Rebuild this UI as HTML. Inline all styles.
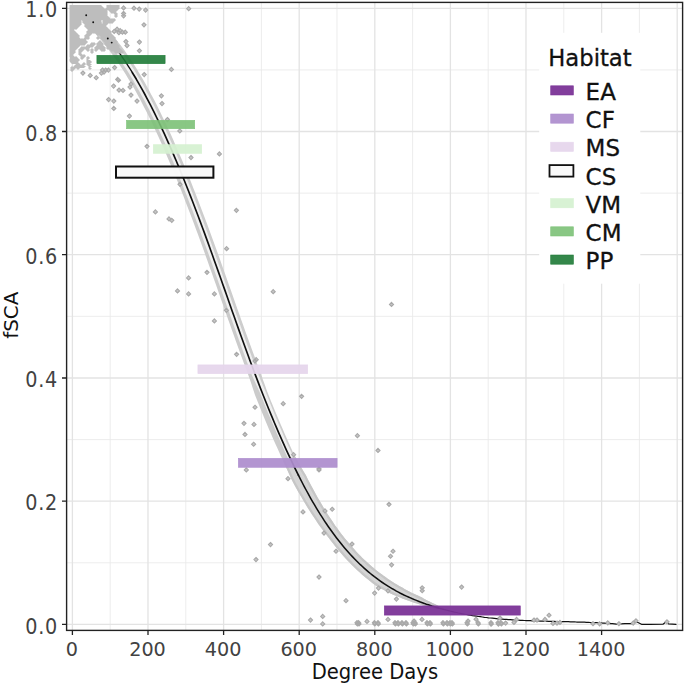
<!DOCTYPE html>
<html lang="en"><head><meta charset="utf-8"><title>fSCA vs Degree Days by Habitat</title>
<style>html,body{margin:0;padding:0;background:#fff}body{width:685px;height:685px;overflow:hidden}svg{display:block}text{font-family:'DejaVu Sans','Liberation Sans',sans-serif}.tk{font-size:19.2px;fill:#424242}.ax{font-size:19.6px;fill:#111}.lg{font-size:23px;fill:#111;stroke:#111;stroke-width:.3px}</style></head><body>
<svg width="685" height="685" viewBox="0 0 685 685">
<rect width="685" height="685" fill="#fff"/>
<path d="M110.2 2.4V630.4M185.8 2.4V630.4M261.4 2.4V630.4M337.0 2.4V630.4M412.6 2.4V630.4M488.2 2.4V630.4M563.8 2.4V630.4M639.4 2.4V630.4M66.6 562.8H682.6M66.6 439.6H682.6M66.6 316.3H682.6M66.6 193.1H682.6M66.6 69.9H682.6" stroke="#e9e9e9" stroke-width="0.85" fill="none"/>
<path d="M72.4 2.4V630.4M148.0 2.4V630.4M223.6 2.4V630.4M299.2 2.4V630.4M374.8 2.4V630.4M450.4 2.4V630.4M526.0 2.4V630.4M601.6 2.4V630.4M677.2 2.4V630.4M66.6 624.4H682.6M66.6 501.2H682.6M66.6 378.0H682.6M66.6 254.7H682.6M66.6 131.5H682.6M66.6 8.3H682.6" stroke="#e3e3e3" stroke-width="1.3" fill="none"/>
<path d="M111.8 43.4L113.2 46.3L114.7 49.4L116.2 52.4L117.6 55.6L119.0 58.8L121.0 61.7L123.0 64.6L125.0 67.6L127.0 70.7L128.9 73.9L130.9 77.1L132.9 80.5L134.9 83.9L136.9 87.3L138.9 90.9L140.8 94.5L142.8 98.2L144.8 102.0L146.8 105.8L148.8 109.7L150.8 113.7L152.8 117.7L154.8 121.8L156.7 126.0L158.7 130.3L160.7 134.6L162.7 138.9L164.7 143.4L166.7 147.9L168.7 152.4L170.7 157.1L172.7 161.7L174.7 166.5L176.7 171.3L178.7 176.1L180.7 181.1L182.7 186.0L184.7 191.1L186.6 196.1L188.6 201.3L190.6 206.5L192.6 211.7L194.6 217.0L196.6 222.3L198.6 227.7L200.6 233.1L202.6 238.5L204.6 244.0L206.6 249.6L208.6 255.1L210.6 260.7L212.6 266.4L214.6 272.0L216.6 277.7L218.6 283.3L220.6 289.0L222.6 294.7L224.6 300.4L226.6 306.1L228.6 311.7L230.6 317.4L232.6 323.0L234.6 328.7L236.6 334.3L238.6 339.9L240.6 345.4L242.6 350.9L244.6 356.4L246.6 361.8L248.6 367.2L250.6 372.6L252.8 377.8L255.2 382.9L257.5 388.0L259.9 393.0L261.9 398.1L263.9 403.1L265.9 408.1L267.9 413.0L269.9 417.9L271.9 422.7L273.9 427.4L275.9 432.1L277.9 436.7L279.9 441.2L281.9 445.7L283.9 450.1L285.9 454.5L287.9 458.8L289.9 463.1L295.3 460.5L293.3 456.3L291.4 452.0L289.4 447.7L287.4 443.3L285.4 438.8L283.4 434.3L281.4 429.7L279.4 425.0L277.4 420.3L275.4 415.6L273.4 410.7L271.4 405.8L269.4 400.9L267.4 395.9L265.4 390.8L263.3 385.7L261.2 380.6L259.1 375.4L257.0 370.2L255.0 364.8L253.0 359.5L251.0 354.0L249.0 348.6L247.0 343.1L245.0 337.6L243.0 332.0L241.0 326.4L239.0 320.8L237.0 315.1L235.0 309.5L233.0 303.8L231.0 298.1L229.0 292.4L227.0 286.8L225.0 281.1L223.0 275.4L221.0 269.7L219.0 264.1L217.0 258.5L215.0 252.9L213.0 247.3L211.0 241.7L209.0 236.2L207.0 230.7L205.0 225.3L203.0 219.9L201.0 214.6L199.0 209.3L197.0 204.0L195.0 198.8L193.0 193.7L191.0 188.6L189.0 183.5L187.0 178.5L185.0 173.6L183.0 168.7L181.0 163.9L178.9 159.1L176.9 154.4L174.9 149.7L172.9 145.1L170.9 140.6L168.9 136.1L166.9 131.7L164.9 127.4L162.9 123.1L160.9 118.9L158.9 114.7L156.9 110.7L154.9 106.6L152.8 102.7L150.8 98.8L148.8 95.0L146.8 91.3L144.8 87.6L142.8 84.0L140.8 80.5L138.8 77.0L136.7 73.6L134.7 70.3L132.7 67.1L130.7 63.9L128.7 60.8L126.6 57.8L124.6 54.9L122.1 52.4L119.6 49.9L117.2 47.5L114.7 45.2L112.2 43.0Z" fill="#f0f0f0"/><path d="M79.7 18.6L81.6 20.3L83.5 22.0L85.5 23.8L87.4 25.6L89.3 27.5L91.3 29.5L93.2 31.5L95.2 33.6L97.1 35.7L99.0 37.9L101.0 40.1L102.9 42.5L104.9 44.8L106.8 47.3L108.8 49.8L110.7 52.4L112.7 55.0L114.6 57.7L116.6 60.5L118.5 63.3L120.5 66.3L122.5 69.3L124.4 72.3L126.4 75.5L128.3 78.7L130.3 82.0L132.3 85.4L134.3 88.8L136.2 92.3L138.2 95.9L140.2 99.6L142.2 103.4L144.1 107.2L146.1 111.1L148.1 115.0L150.1 119.0L152.1 123.1L154.0 127.3L156.0 131.5L158.0 135.8L160.0 140.2L162.0 144.6L164.0 149.1L165.9 153.6L167.9 158.2L169.9 162.9L171.9 167.6L173.9 172.4L175.9 177.3L177.9 182.2L179.9 187.1L181.9 192.2L183.9 197.2L185.8 202.4L187.8 207.5L189.8 212.8L191.8 218.0L193.8 223.3L195.8 228.7L197.8 234.1L199.8 239.6L201.8 245.1L203.8 250.6L205.8 256.2L207.8 261.7L209.8 267.4L211.8 273.0L213.8 278.7L215.8 284.3L217.8 290.0L219.8 295.7L221.8 301.4L223.8 307.1L225.8 312.7L227.8 318.4L229.8 324.0L231.8 329.7L233.8 335.3L235.8 340.9L237.8 346.4L239.8 351.9L241.8 357.4L243.8 362.9L245.8 368.3L247.8 373.6L249.7 379.0L251.5 384.3L253.2 389.6L255.0 394.9L257.0 400.0L259.0 405.0L261.0 410.0L263.1 415.0L265.1 419.9L267.1 424.7L269.1 429.4L271.1 434.1L273.1 438.8L275.1 443.3L277.2 447.8L279.2 452.3L281.2 456.7L283.2 461.0L285.1 465.3L290.2 462.9L288.2 458.7L286.2 454.4L284.2 450.0L282.2 445.6L280.2 441.1L278.2 436.6L276.2 431.9L274.2 427.3L272.2 422.5L270.2 417.7L268.1 412.9L266.1 408.0L264.1 403.0L262.1 398.0L260.1 392.9L257.8 387.9L255.4 382.8L253.1 377.7L250.9 372.5L248.9 367.1L246.9 361.7L244.9 356.3L242.9 350.8L240.9 345.3L238.9 339.8L236.9 334.2L234.9 328.6L232.9 322.9L230.9 317.3L228.9 311.6L226.9 306.0L224.9 300.3L222.9 294.6L220.9 288.9L218.9 283.2L216.9 277.6L214.9 271.9L212.9 266.3L210.9 260.6L208.9 255.0L206.9 249.5L204.9 243.9L202.9 238.4L200.9 233.0L198.9 227.6L196.9 222.2L194.9 216.9L192.9 211.6L190.9 206.4L188.9 201.2L186.9 196.0L184.9 191.0L182.9 185.9L180.9 181.0L178.9 176.0L176.9 171.2L175.0 166.4L173.0 161.6L171.0 156.9L169.0 152.3L167.0 147.7L165.0 143.2L163.0 138.8L161.0 134.4L159.0 130.1L157.0 125.9L155.0 121.7L153.0 117.6L151.0 113.5L149.1 109.6L147.1 105.7L145.1 101.8L143.1 98.1L141.1 94.4L139.1 90.7L137.1 87.2L135.1 83.7L133.2 80.3L131.2 77.0L129.2 73.7L127.2 70.6L125.2 67.5L123.2 64.4L121.3 61.5L119.3 58.6L117.8 55.4L116.4 52.3L114.9 49.2L113.5 46.2L112.0 43.2L110.0 40.7L108.0 38.2L106.0 35.9L104.0 33.5L102.0 31.3L100.0 29.1L98.0 27.0L96.0 24.9L94.0 22.9L92.0 20.9L90.0 19.0L88.0 17.1L86.0 15.3L84.0 13.6Z" fill="#cbcbcb"/><path d="M84.0 13.6L86.0 15.3L88.0 17.1L90.0 19.0L92.0 20.9L94.0 22.9L96.0 24.9L98.0 27.0L100.0 29.1L102.0 31.3L104.0 33.5L106.0 35.9L108.0 38.2L110.0 40.7L112.0 43.2L114.5 45.4L116.9 47.7L119.4 50.1L121.9 52.5L124.4 55.1L126.4 58.0L128.4 61.0L130.4 64.1L132.5 67.3L134.5 70.5L136.5 73.8L138.5 77.2L140.5 80.6L142.5 84.1L144.5 87.7L146.5 91.4L148.6 95.1L150.6 99.0L152.6 102.8L154.6 106.8L156.6 110.8L158.6 114.9L160.6 119.0L162.6 123.2L164.6 127.5L166.6 131.9L168.6 136.3L170.6 140.7L172.7 145.3L174.7 149.8L176.7 154.5L178.7 159.2L180.7 164.0L182.7 168.8L184.7 173.7L186.7 178.6L188.7 183.6L190.7 188.7L192.7 193.8L194.7 198.9L196.7 204.1L198.7 209.4L200.7 214.7L202.7 220.0L204.7 225.4L206.7 230.8L208.7 236.3L210.7 241.8L212.7 247.4L214.7 253.0L216.7 258.6L218.7 264.2L220.7 269.8L222.7 275.5L224.7 281.2L226.7 286.8L228.7 292.5L230.7 298.2L232.7 303.9L234.7 309.6L236.7 315.2L238.7 320.9L240.7 326.5L242.7 332.1L244.7 337.7L246.7 343.2L248.7 348.7L250.7 354.1L252.7 359.6L254.7 364.9L256.7 370.3L258.8 375.5L260.9 380.7L263.0 385.8L265.2 390.9L267.2 396.0L269.2 401.0L271.2 405.9L273.1 410.8L275.1 415.7L277.1 420.4L279.1 425.2L281.1 429.8L283.1 434.4L285.1 438.9L287.1 443.4L289.1 447.8L291.1 452.1L293.1 456.4L295.1 460.6L296.9 459.7L294.6 455.7L292.6 451.4L290.6 447.1L288.7 442.7L286.7 438.2L284.7 433.7L282.7 429.1L280.7 424.5L278.7 419.8L276.7 415.0L274.7 410.2L272.7 405.3L270.7 400.4L268.7 395.4L266.7 390.3L264.9 385.1L263.0 379.9L261.2 374.6L259.2 369.3L257.2 364.0L255.3 358.6L253.3 353.2L251.3 347.8L249.3 342.3L247.3 336.7L245.3 331.2L243.3 325.6L241.3 320.0L239.3 314.3L237.3 308.7L235.3 303.0L233.3 297.3L231.3 291.6L229.3 286.0L227.3 280.3L225.3 274.6L223.3 268.9L221.3 263.3L219.3 257.6L217.3 252.0L215.3 246.5L213.3 240.9L211.3 235.4L209.3 229.9L207.3 224.5L205.2 219.1L203.2 213.7L201.2 208.4L199.2 203.2L197.2 198.0L195.2 192.8L193.2 187.7L191.2 182.6L189.2 177.6L187.2 172.7L185.2 167.8L183.2 162.9L181.2 158.2L179.1 153.4L177.1 148.8L175.1 144.2L173.1 139.6L171.1 135.1L169.1 130.7L167.1 126.4L165.1 122.1L163.0 117.9L161.0 113.7L159.0 109.6L157.0 105.6L155.0 101.6L153.0 97.7L150.9 93.9L148.9 90.1L146.9 86.4L144.9 82.8L142.9 79.3L140.8 75.8L138.8 72.4L136.8 69.1L134.7 65.8L132.7 62.6L130.7 59.5L128.6 56.5L126.6 53.5L124.6 50.6L122.5 47.8L120.5 45.0L118.4 42.4L116.4 39.7L114.4 37.2L112.3 34.7L110.3 32.2L108.2 29.9L106.2 27.5L104.1 25.3L102.1 23.1L100.0 21.0L98.0 18.9L95.9 16.9L93.8 14.9L91.8 13.0L89.7 11.1L87.7 9.3Z" fill="#cdcdcd"/><path d="M283.2 461.0L285.1 465.3L287.1 469.6L289.0 473.8L290.9 477.9L292.9 482.0L295.0 485.9L297.1 489.7L299.2 493.4L301.4 497.1L303.5 500.7L305.6 504.3L307.7 507.7L309.8 511.1L312.0 514.4L314.1 517.6L316.2 520.8L318.3 523.9L320.5 526.9L322.6 529.8L324.7 532.7L326.9 535.5L329.0 538.2L331.1 540.9L333.1 543.6L335.2 546.2L337.2 548.7L339.3 551.2L341.3 553.6L343.4 555.9L345.4 558.2L347.5 560.4L349.5 562.6L351.6 564.7L353.7 566.8L355.7 568.8L357.8 570.7L359.9 572.6L361.9 574.4L364.0 576.2L366.1 578.0L368.1 579.6L370.2 581.3L372.3 582.9L374.3 584.4L376.4 585.9L378.6 587.2L380.8 588.4L383.0 589.6L385.1 590.7L387.3 591.8L389.5 592.9L391.6 593.9L393.8 594.9L395.9 595.8L398.1 596.7L400.2 597.6L402.3 598.5L404.4 599.3L406.5 600.1L408.6 600.8L410.7 601.6L412.8 602.3L414.9 603.0L417.0 603.6L419.1 604.3L421.2 604.8L423.2 605.4L425.3 606.0L427.4 606.5L429.5 607.0L431.5 607.5L433.6 608.0L435.7 608.4L437.7 608.8L439.8 609.2L441.8 609.6L443.9 610.0L445.9 610.4L446.2 609.3L444.3 608.5L442.4 607.6L440.5 606.8L438.6 605.9L436.7 605.0L434.8 604.1L432.9 603.2L431.0 602.3L429.1 601.3L427.3 600.4L425.4 599.4L423.6 598.4L421.7 597.3L419.8 596.5L417.9 595.6L416.0 594.7L414.0 593.8L412.1 592.9L410.2 591.9L408.3 590.9L406.4 589.9L404.5 588.9L402.7 587.8L400.7 586.8L398.8 585.7L396.9 584.5L395.0 583.4L393.1 582.2L391.2 581.0L389.3 579.7L387.4 578.4L385.5 577.1L383.6 575.7L381.7 574.3L379.8 572.9L377.9 571.4L375.9 569.9L374.0 568.3L372.1 566.7L370.1 565.0L368.2 563.3L366.3 561.6L364.3 559.7L362.4 557.9L360.5 555.9L358.5 553.9L356.6 551.9L354.7 549.8L352.7 547.6L350.8 545.4L348.8 543.1L346.9 540.8L344.9 538.4L343.0 535.9L341.0 533.4L339.0 530.8L337.1 528.1L335.1 525.4L333.2 522.5L331.2 519.6L329.3 516.7L327.3 513.7L325.4 510.5L323.5 507.4L321.5 504.1L319.6 500.8L317.6 497.4L315.7 493.9L313.7 490.3L311.8 486.7L309.8 483.0L307.8 479.2L305.9 475.3L303.6 471.6L301.4 467.7L299.1 463.8L296.9 459.7L294.6 455.7Z" fill="#d5d5d5"/><path d="M283.2 461.0L285.1 465.3L287.1 469.6L289.0 473.8L290.9 477.9L292.9 482.0L295.0 485.9L297.1 489.7L299.2 493.4L301.4 497.1L303.5 500.7L305.6 504.3L307.7 507.7L309.8 511.1L312.0 514.4L314.1 517.6L316.2 520.8L318.3 523.9L320.5 526.9L322.6 529.8L324.7 532.7L326.9 535.5L329.0 538.2L331.1 540.9L333.1 543.6L335.2 546.2L337.2 548.7L339.3 551.2L341.3 553.6L343.4 555.9L345.4 558.2L347.5 560.4L349.5 562.6L351.6 564.7L353.7 566.8L355.7 568.8L357.8 570.7L359.9 572.6L361.9 574.4L364.0 576.2L366.1 578.0L368.1 579.6L370.2 581.3L372.3 582.9L374.3 584.4L376.4 585.9L378.6 587.2L380.8 588.4L383.0 589.6L385.1 590.7L387.3 591.8L389.5 592.9L391.6 593.9L393.8 594.9L395.9 595.8L398.1 596.7L400.2 597.6L402.3 598.5L404.4 599.3L406.5 600.1L408.6 600.8L410.7 601.6L412.8 602.3L414.9 603.0L417.0 603.6L419.1 604.3L421.2 604.8L423.2 605.4L425.3 606.0L427.4 606.5L429.5 607.0L431.5 607.5L433.6 608.0L435.7 608.4L437.7 608.8L439.8 609.2L440.0 608.4L438.0 607.9L436.0 607.3L434.0 606.7L432.0 606.0L430.0 605.4L428.0 604.7L426.0 604.0L424.0 603.3L421.9 602.8L419.9 602.2L417.8 601.6L415.7 600.9L413.7 600.3L411.6 599.6L409.5 598.8L407.4 598.1L405.4 597.3L403.3 596.5L401.2 595.6L399.1 594.7L397.0 593.9L394.8 592.9L392.7 592.0L390.6 591.0L388.4 589.9L386.3 588.9L384.2 587.7L382.0 586.6L379.9 585.4L377.7 584.1L375.6 582.6L373.6 581.1L371.5 579.5L369.5 577.9L367.5 576.3L365.4 574.6L363.4 572.8L361.3 571.0L359.3 569.1L357.2 567.2L355.2 565.2L353.2 563.2L351.1 561.1L349.1 558.9L347.0 556.7L345.0 554.5L343.0 552.1L340.9 549.8L338.9 547.3L336.9 544.8L334.8 542.2L332.8 539.6L330.7 536.9L328.6 534.2L326.5 531.4L324.4 528.6L322.3 525.7L320.2 522.7L318.1 519.6L316.0 516.5L313.8 513.3L311.7 510.0L309.6 506.6L307.5 503.2L305.4 499.7L303.3 496.1L301.2 492.4L299.1 488.7L296.9 484.8L294.8 481.0L292.9 476.9L291.0 472.8L289.0 468.6L287.1 464.4L285.2 460.1Z" fill="#c6c6c6"/><path d="M292.6 456.6L294.9 460.7L297.2 464.7L299.4 468.7L301.7 472.5L303.9 476.3L305.9 480.2L307.9 484.0L309.8 487.7L311.8 491.4L313.7 495.0L315.7 498.5L317.7 501.9L319.6 505.2L321.6 508.5L323.5 511.7L325.5 514.8L327.4 517.9L329.4 520.9L331.4 523.8L333.3 526.6L335.3 529.4L337.2 532.1L339.3 534.7L341.2 537.3L343.2 539.7L345.2 542.2L347.1 544.5L349.1 546.9L351.1 549.1L353.0 551.3L355.0 553.4L357.0 555.5L358.9 557.5L360.9 559.4L362.8 561.3L364.8 563.2L366.7 565.0L368.7 566.7L370.7 568.4L372.6 570.0L374.6 571.6L376.5 573.1L378.5 574.6L380.4 576.1L382.4 577.5L384.3 578.9L386.2 580.2L388.1 581.6L390.1 582.8L392.0 584.1L393.9 585.3L395.8 586.5L397.8 587.6L399.7 588.7L401.6 589.8L403.6 590.8L405.5 591.9L407.4 592.9L409.3 593.9L411.2 594.9L413.2 595.8L415.1 596.8L417.0 597.7L419.0 598.5L420.9 599.4L422.8 600.4L424.7 601.4L426.6 602.4L428.4 603.4L430.3 604.4L432.2 605.3L434.1 606.2L436.0 607.1L438.0 607.9L440.0 608.4L440.5 606.8L438.6 605.9L436.7 605.0L434.8 604.1L432.9 603.2L431.0 602.3L429.1 601.3L427.3 600.4L425.4 599.4L423.6 598.4L421.7 597.3L419.8 596.5L417.9 595.6L416.0 594.7L414.0 593.8L412.1 592.9L410.2 591.9L408.3 590.9L406.4 589.9L404.5 588.9L402.7 587.8L400.7 586.8L398.8 585.7L396.9 584.5L395.0 583.4L393.1 582.2L391.2 581.0L389.3 579.7L387.4 578.4L385.5 577.1L383.6 575.7L381.7 574.3L379.8 572.9L377.9 571.4L375.9 569.9L374.0 568.3L372.1 566.7L370.1 565.0L368.2 563.3L366.3 561.6L364.3 559.7L362.4 557.9L360.5 555.9L358.5 553.9L356.6 551.9L354.7 549.8L352.7 547.6L350.8 545.4L348.8 543.1L346.9 540.8L344.9 538.4L343.0 535.9L341.0 533.4L339.0 530.8L337.1 528.1L335.1 525.4L333.2 522.5L331.2 519.6L329.3 516.7L327.3 513.7L325.4 510.5L323.5 507.4L321.5 504.1L319.6 500.8L317.6 497.4L315.7 493.9L313.7 490.3L311.8 486.7L309.8 483.0L307.8 479.2L305.9 475.3L303.6 471.6L301.4 467.7L299.1 463.8L296.9 459.7L294.6 455.7Z" fill="#c6c6c6"/><path d="M118.4 51.7L120.4 54.4L122.4 57.3L124.4 60.2L126.4 63.2L128.4 66.3L130.4 69.4L132.4 72.7" fill="none" stroke="#111" stroke-width="1.3" stroke-linejoin="round" stroke-linecap="round"/><path d="M132.4 72.7L134.4 76.0L136.4 79.3L138.4 82.8L140.4 86.3L142.4 89.9L144.4 93.5L146.4 97.3L148.4 101.1L150.4 104.9L152.4 108.9L154.4 112.9L156.4 117.0L158.4 121.1L160.4 125.3L162.4 129.6L164.4 133.9L166.4 138.3L168.4 142.8L170.4 147.3L172.4 151.9L174.4 156.6L176.4 161.3L178.4 166.1L180.4 170.9L182.4 175.8L184.4 180.7L186.4 185.7L188.4 190.8L190.4 195.9L192.4 201.0L194.4 206.2L196.4 211.5L198.4 216.8L200.4 222.1L202.4 227.5L204.4 232.9L206.4 238.4L208.4 243.9L210.4 249.5L212.4 255.0L214.4 260.7L216.4 266.3L218.4 271.9L220.4 277.6L222.4 283.3L224.4 288.9L226.4 294.6L228.4 300.3L230.4 306.0L232.4 311.7L234.4 317.3L236.4 323.0L238.4 328.6L240.4 334.2L242.4 339.7L244.4 345.3L246.4 350.8L248.4 356.2L250.4 361.7L252.4 367.0L254.4 372.4L256.4 377.6L258.4 382.9L260.4 388.1L262.4 393.2L264.4 398.2L266.4 403.3L268.4 408.2L270.4 413.1L272.4 417.9L274.4 422.7L276.4 427.4L278.4 432.1L280.4 436.7L282.4 441.2L284.4 445.7L286.4 450.1L288.4 454.4L290.4 458.7L292.4 462.9L294.4 467.1L296.4 471.1L298.4 475.2" fill="none" stroke="#111" stroke-width="1.65" stroke-linejoin="round" stroke-linecap="round"/><path d="M298.4 475.2L300.4 479.1L302.4 483.0L304.4 486.8L306.4 490.5L308.4 494.2L310.4 497.8L312.4 501.3L314.4 504.7L316.4 508.1L318.4 511.4L320.4 514.6L322.4 517.7L324.4 520.8L326.4 523.8L328.4 526.7L330.4 529.5L332.4 532.3L334.4 535.0L336.4 537.7L338.4 540.3L340.4 542.8L342.4 545.3L344.4 547.7L346.4 550.0L348.4 552.3L350.4 554.5L352.4 556.6L354.4 558.7L356.4 560.8L358.4 562.7L360.4 564.7L362.4 566.5L364.4 568.4L366.4 570.1L368.4 571.8L370.4 573.5L372.4 575.1L374.4 576.7L376.4 578.2L378.4 579.7L380.4 581.1L382.4 582.5L384.4 583.8L386.4 585.1L388.4 586.4L390.4 587.6L392.4 588.8L394.4 589.9L396.4 591.1L398.4 592.1L400.4 593.2L402.4 594.2L404.4 595.2L406.4 596.1L408.4 597.0L410.4 597.9L412.4 598.8L414.4 599.6L416.4 600.4L418.4 601.2L420.4 602.0L422.4 602.7L424.4 603.4L426.4 604.2L428.4 604.8L430.4 605.5L432.4 606.2L434.4 606.8L436.4 607.4L438.4 608.0" fill="none" stroke="#111" stroke-width="1.55" stroke-linejoin="round" stroke-linecap="round"/><path d="M438.4 608.0L440.4 608.6L442.4 609.1L444.4 609.7L446.4 610.2L448.4 610.7L450.4 611.2L452.4 611.6L454.4 612.1L456.4 612.5L458.4 613.0L460.4 613.4L462.4 613.8L464.4 614.2L466.4 614.5L468.4 614.9L470.4 615.2L472.4 615.6L474.4 615.9L476.4 616.2L478.4 616.5L480.4 616.7L482.4 617.0L484.4 617.3L486.4 617.5L488.4 617.8L490.4 618.0L492.4 618.2L494.4 618.4L496.4 618.6L498.4 618.8L500.4 618.9L502.4 619.1L504.4 619.3L506.4 619.4L508.4 619.6L510.4 619.7L512.4 619.8L514.4 620.0L516.4 620.1L518.4 620.2L520.4 620.3L522.4 620.4L524.4 620.5L526.4 620.6L528.4 620.6L530.4 620.7L532.4 620.8L534.4 620.9L536.4 620.9L538.4 621.0L540.4 621.1L542.4 621.1L544.4 621.2L546.4 621.2L548.4 621.3L550.4 621.3L552.4 621.4L554.4 621.4L556.4 621.5L558.4 621.5L560.4 621.6L562.4 621.6L564.4 621.6L566.4 621.7L568.4 621.7L570.4 621.8L572.4 621.8L574.4 621.9L576.4 622.0L578.4 622.0L580.4 622.1L582.4 622.2L584.4 622.2L586.4 622.3L588.4 622.4L590.4 622.5L592.4 622.5L594.4 622.6L596.4 622.7L598.4 622.8L600.4 622.9L602.4 623.1L604.4 623.2L606.4 623.3L608.4 623.4L610.4 623.6L612.4 623.7L614.4 623.9L616.4 624.1L625.0 623.7L632.0 623.6L635.0 622.3L637.5 622.3L641.5 624.3L650.0 624.3L663.0 624.2L666.5 621.6L668.5 623.8L676.0 624.3" fill="none" stroke="#111" stroke-width="1.25" stroke-linejoin="round" stroke-linecap="round"/><path d="M123.6 5.9l2.05 2.05l-2.05 2.05l-2.05-2.05zM123.6 11.4l2.05 2.05l-2.05 2.05l-2.05-2.05zM123.6 13.8l2.05 2.05l-2.05 2.05l-2.05-2.05zM134.0 6.1l2.05 2.05l-2.05 2.05l-2.05-2.05zM139.2 7.0l2.05 2.05l-2.05 2.05l-2.05-2.05zM145.6 8.0l2.05 2.05l-2.05 2.05l-2.05-2.05zM188.7 6.6l2.05 2.05l-2.05 2.05l-2.05-2.05zM144.0 22.8l2.05 2.05l-2.05 2.05l-2.05-2.05zM114.2 29.4l2.05 2.05l-2.05 2.05l-2.05-2.05zM117.1 27.1l2.05 2.05l-2.05 2.05l-2.05-2.05zM118.9 30.7l2.05 2.05l-2.05 2.05l-2.05-2.05zM122.4 30.1l2.05 2.05l-2.05 2.05l-2.05-2.05zM125.3 30.1l2.05 2.05l-2.05 2.05l-2.05-2.05zM120.2 28.6l2.05 2.05l-2.05 2.05l-2.05-2.05zM125.9 39.5l2.05 2.05l-2.05 2.05l-2.05-2.05zM127.0 43.5l2.05 2.05l-2.05 2.05l-2.05-2.05zM139.4 40.0l2.05 2.05l-2.05 2.05l-2.05-2.05zM139.4 48.7l2.05 2.05l-2.05 2.05l-2.05-2.05zM82.9 71.0l2.05 2.05l-2.05 2.05l-2.05-2.05zM90.2 73.4l2.05 2.05l-2.05 2.05l-2.05-2.05zM96.2 75.7l2.05 2.05l-2.05 2.05l-2.05-2.05zM102.5 68.0l2.05 2.05l-2.05 2.05l-2.05-2.05zM105.6 68.0l2.05 2.05l-2.05 2.05l-2.05-2.05zM108.4 68.0l2.05 2.05l-2.05 2.05l-2.05-2.05zM101.4 71.0l2.05 2.05l-2.05 2.05l-2.05-2.05zM104.0 70.0l2.05 2.05l-2.05 2.05l-2.05-2.05zM114.6 65.5l2.05 2.05l-2.05 2.05l-2.05-2.05zM117.7 77.4l2.05 2.05l-2.05 2.05l-2.05-2.05zM144.2 72.5l2.05 2.05l-2.05 2.05l-2.05-2.05zM171.4 67.4l2.05 2.05l-2.05 2.05l-2.05-2.05zM118.5 78.2l2.05 2.05l-2.05 2.05l-2.05-2.05zM113.6 84.0l2.05 2.05l-2.05 2.05l-2.05-2.05zM119.0 88.0l2.05 2.05l-2.05 2.05l-2.05-2.05zM123.0 88.4l2.05 2.05l-2.05 2.05l-2.05-2.05zM131.0 82.0l2.05 2.05l-2.05 2.05l-2.05-2.05zM130.0 85.0l2.05 2.05l-2.05 2.05l-2.05-2.05zM131.0 93.0l2.05 2.05l-2.05 2.05l-2.05-2.05zM137.0 99.0l2.05 2.05l-2.05 2.05l-2.05-2.05zM108.6 97.5l2.05 2.05l-2.05 2.05l-2.05-2.05zM113.8 99.0l2.05 2.05l-2.05 2.05l-2.05-2.05zM113.8 106.4l2.05 2.05l-2.05 2.05l-2.05-2.05zM129.4 114.0l2.05 2.05l-2.05 2.05l-2.05-2.05zM161.4 93.8l2.05 2.05l-2.05 2.05l-2.05-2.05zM162.0 101.5l2.05 2.05l-2.05 2.05l-2.05-2.05zM179.8 128.9l2.05 2.05l-2.05 2.05l-2.05-2.05zM167.4 117.5l2.05 2.05l-2.05 2.05l-2.05-2.05zM147.0 144.3l2.05 2.05l-2.05 2.05l-2.05-2.05zM191.0 155.5l2.05 2.05l-2.05 2.05l-2.05-2.05zM219.4 151.9l2.05 2.05l-2.05 2.05l-2.05-2.05zM155.4 209.9l2.05 2.05l-2.05 2.05l-2.05-2.05zM169.0 216.9l2.05 2.05l-2.05 2.05l-2.05-2.05zM171.8 218.3l2.05 2.05l-2.05 2.05l-2.05-2.05zM236.4 208.3l2.05 2.05l-2.05 2.05l-2.05-2.05zM226.6 246.6l2.05 2.05l-2.05 2.05l-2.05-2.05zM180.0 182.3l2.05 2.05l-2.05 2.05l-2.05-2.05zM207.0 270.3l2.05 2.05l-2.05 2.05l-2.05-2.05zM188.6 275.9l2.05 2.05l-2.05 2.05l-2.05-2.05zM188.6 291.9l2.05 2.05l-2.05 2.05l-2.05-2.05zM177.5 288.9l2.05 2.05l-2.05 2.05l-2.05-2.05zM214.4 291.9l2.05 2.05l-2.05 2.05l-2.05-2.05zM273.2 289.6l2.05 2.05l-2.05 2.05l-2.05-2.05zM214.4 318.9l2.05 2.05l-2.05 2.05l-2.05-2.05zM236.6 352.3l2.05 2.05l-2.05 2.05l-2.05-2.05zM256.2 357.6l2.05 2.05l-2.05 2.05l-2.05-2.05zM226.4 308.3l2.05 2.05l-2.05 2.05l-2.05-2.05zM255.0 358.9l2.05 2.05l-2.05 2.05l-2.05-2.05zM301.6 394.3l2.05 2.05l-2.05 2.05l-2.05-2.05zM283.2 401.6l2.05 2.05l-2.05 2.05l-2.05-2.05zM255.0 405.2l2.05 2.05l-2.05 2.05l-2.05-2.05zM244.0 421.3l2.05 2.05l-2.05 2.05l-2.05-2.05zM254.0 422.4l2.05 2.05l-2.05 2.05l-2.05-2.05zM245.0 432.4l2.05 2.05l-2.05 2.05l-2.05-2.05zM253.6 442.2l2.05 2.05l-2.05 2.05l-2.05-2.05zM246.3 467.9l2.05 2.05l-2.05 2.05l-2.05-2.05zM288.0 476.6l2.05 2.05l-2.05 2.05l-2.05-2.05zM319.0 466.8l2.05 2.05l-2.05 2.05l-2.05-2.05zM293.6 452.6l2.05 2.05l-2.05 2.05l-2.05-2.05zM357.4 433.6l2.05 2.05l-2.05 2.05l-2.05-2.05zM378.0 448.4l2.05 2.05l-2.05 2.05l-2.05-2.05zM391.5 302.4l2.05 2.05l-2.05 2.05l-2.05-2.05zM389.0 502.3l2.05 2.05l-2.05 2.05l-2.05-2.05zM332.2 507.2l2.05 2.05l-2.05 2.05l-2.05-2.05zM303.0 509.9l2.05 2.05l-2.05 2.05l-2.05-2.05zM325.0 508.9l2.05 2.05l-2.05 2.05l-2.05-2.05zM324.0 531.0l2.05 2.05l-2.05 2.05l-2.05-2.05zM336.0 549.2l2.05 2.05l-2.05 2.05l-2.05-2.05zM352.0 542.0l2.05 2.05l-2.05 2.05l-2.05-2.05zM393.0 549.2l2.05 2.05l-2.05 2.05l-2.05-2.05zM390.5 554.2l2.05 2.05l-2.05 2.05l-2.05-2.05zM391.6 562.8l2.05 2.05l-2.05 2.05l-2.05-2.05zM319.0 575.0l2.05 2.05l-2.05 2.05l-2.05-2.05zM346.0 598.6l2.05 2.05l-2.05 2.05l-2.05-2.05zM374.6 591.0l2.05 2.05l-2.05 2.05l-2.05-2.05zM378.5 586.0l2.05 2.05l-2.05 2.05l-2.05-2.05zM388.0 588.8l2.05 2.05l-2.05 2.05l-2.05-2.05zM396.4 597.0l2.05 2.05l-2.05 2.05l-2.05-2.05zM422.2 585.8l2.05 2.05l-2.05 2.05l-2.05-2.05zM422.2 588.6l2.05 2.05l-2.05 2.05l-2.05-2.05zM319.0 467.9l2.05 2.05l-2.05 2.05l-2.05-2.05zM461.6 585.0l2.05 2.05l-2.05 2.05l-2.05-2.05zM388.0 617.4l2.05 2.05l-2.05 2.05l-2.05-2.05zM422.0 617.4l2.05 2.05l-2.05 2.05l-2.05-2.05zM414.0 619.0l2.05 2.05l-2.05 2.05l-2.05-2.05zM468.0 619.0l2.05 2.05l-2.05 2.05l-2.05-2.05zM476.0 617.2l2.05 2.05l-2.05 2.05l-2.05-2.05zM270.5 542.5l2.05 2.05l-2.05 2.05l-2.05-2.05zM256.0 557.5l2.05 2.05l-2.05 2.05l-2.05-2.05zM310.5 618.0l2.05 2.05l-2.05 2.05l-2.05-2.05zM322.7 614.4l2.05 2.05l-2.05 2.05l-2.05-2.05zM322.7 621.9l2.05 2.05l-2.05 2.05l-2.05-2.05zM367.0 619.4l2.05 2.05l-2.05 2.05l-2.05-2.05zM500.0 616.0l2.05 2.05l-2.05 2.05l-2.05-2.05zM491.0 622.0l2.05 2.05l-2.05 2.05l-2.05-2.05zM498.4 622.0l2.05 2.05l-2.05 2.05l-2.05-2.05zM505.6 621.0l2.05 2.05l-2.05 2.05l-2.05-2.05zM514.0 620.4l2.05 2.05l-2.05 2.05l-2.05-2.05zM516.6 617.4l2.05 2.05l-2.05 2.05l-2.05-2.05zM534.0 618.0l2.05 2.05l-2.05 2.05l-2.05-2.05zM537.0 618.0l2.05 2.05l-2.05 2.05l-2.05-2.05zM549.0 613.2l2.05 2.05l-2.05 2.05l-2.05-2.05zM545.0 617.4l2.05 2.05l-2.05 2.05l-2.05-2.05zM553.0 621.4l2.05 2.05l-2.05 2.05l-2.05-2.05zM557.0 621.0l2.05 2.05l-2.05 2.05l-2.05-2.05zM560.0 620.4l2.05 2.05l-2.05 2.05l-2.05-2.05zM593.0 621.6l2.05 2.05l-2.05 2.05l-2.05-2.05zM599.6 621.8l2.05 2.05l-2.05 2.05l-2.05-2.05zM607.8 620.8l2.05 2.05l-2.05 2.05l-2.05-2.05zM618.9 621.7l2.05 2.05l-2.05 2.05l-2.05-2.05zM633.2 621.0l2.05 2.05l-2.05 2.05l-2.05-2.05zM636.0 618.8l2.05 2.05l-2.05 2.05l-2.05-2.05zM667.0 619.8l2.05 2.05l-2.05 2.05l-2.05-2.05zM357.0 620.6l2.05 2.05l-2.05 2.05l-2.05-2.05zM358.6 620.6l2.05 2.05l-2.05 2.05l-2.05-2.05zM374.4 620.6l2.05 2.05l-2.05 2.05l-2.05-2.05zM378.0 620.6l2.05 2.05l-2.05 2.05l-2.05-2.05zM395.0 620.6l2.05 2.05l-2.05 2.05l-2.05-2.05zM398.0 620.6l2.05 2.05l-2.05 2.05l-2.05-2.05zM402.0 620.6l2.05 2.05l-2.05 2.05l-2.05-2.05zM406.0 620.6l2.05 2.05l-2.05 2.05l-2.05-2.05zM413.0 620.6l2.05 2.05l-2.05 2.05l-2.05-2.05zM415.0 620.6l2.05 2.05l-2.05 2.05l-2.05-2.05zM427.0 620.6l2.05 2.05l-2.05 2.05l-2.05-2.05zM430.0 620.6l2.05 2.05l-2.05 2.05l-2.05-2.05zM443.0 620.6l2.05 2.05l-2.05 2.05l-2.05-2.05zM447.0 620.6l2.05 2.05l-2.05 2.05l-2.05-2.05zM450.0 620.6l2.05 2.05l-2.05 2.05l-2.05-2.05zM452.0 620.6l2.05 2.05l-2.05 2.05l-2.05-2.05zM467.0 620.6l2.05 2.05l-2.05 2.05l-2.05-2.05zM478.0 620.6l2.05 2.05l-2.05 2.05l-2.05-2.05zM491.0 620.6l2.05 2.05l-2.05 2.05l-2.05-2.05zM498.0 620.6l2.05 2.05l-2.05 2.05l-2.05-2.05zM501.0 620.6l2.05 2.05l-2.05 2.05l-2.05-2.05zM357.4 621.9l2.05 2.05l-2.05 2.05l-2.05-2.05zM359.0 621.9l2.05 2.05l-2.05 2.05l-2.05-2.05zM374.8 621.9l2.05 2.05l-2.05 2.05l-2.05-2.05zM378.4 621.9l2.05 2.05l-2.05 2.05l-2.05-2.05zM395.4 621.9l2.05 2.05l-2.05 2.05l-2.05-2.05zM398.4 621.9l2.05 2.05l-2.05 2.05l-2.05-2.05zM402.4 621.9l2.05 2.05l-2.05 2.05l-2.05-2.05zM406.4 621.9l2.05 2.05l-2.05 2.05l-2.05-2.05zM413.4 621.9l2.05 2.05l-2.05 2.05l-2.05-2.05zM415.4 621.9l2.05 2.05l-2.05 2.05l-2.05-2.05zM427.4 621.9l2.05 2.05l-2.05 2.05l-2.05-2.05zM430.4 621.9l2.05 2.05l-2.05 2.05l-2.05-2.05zM443.4 621.9l2.05 2.05l-2.05 2.05l-2.05-2.05zM447.4 621.9l2.05 2.05l-2.05 2.05l-2.05-2.05zM450.4 621.9l2.05 2.05l-2.05 2.05l-2.05-2.05zM452.4 621.9l2.05 2.05l-2.05 2.05l-2.05-2.05zM467.4 621.9l2.05 2.05l-2.05 2.05l-2.05-2.05zM478.4 621.9l2.05 2.05l-2.05 2.05l-2.05-2.05zM491.4 621.9l2.05 2.05l-2.05 2.05l-2.05-2.05zM498.4 621.9l2.05 2.05l-2.05 2.05l-2.05-2.05zM501.4 621.9l2.05 2.05l-2.05 2.05l-2.05-2.05z" fill="#c6c6c6" stroke="#a9a9a9" stroke-width="1.1"/><clipPath id="cc"><rect x="69.5" y="5.1" width="200" height="200"/></clipPath><path d="M70.0 4.0l2.05 2.05l-2.05 2.05l-2.05-2.05zM72.0 4.0l2.05 2.05l-2.05 2.05l-2.05-2.05zM74.0 4.0l2.05 2.05l-2.05 2.05l-2.05-2.05zM76.0 4.0l2.05 2.05l-2.05 2.05l-2.05-2.05zM78.0 4.0l2.05 2.05l-2.05 2.05l-2.05-2.05zM80.0 4.0l2.05 2.05l-2.05 2.05l-2.05-2.05zM82.0 4.0l2.05 2.05l-2.05 2.05l-2.05-2.05zM84.0 4.0l2.05 2.05l-2.05 2.05l-2.05-2.05zM86.0 4.0l2.05 2.05l-2.05 2.05l-2.05-2.05zM88.0 4.0l2.05 2.05l-2.05 2.05l-2.05-2.05zM90.0 4.0l2.05 2.05l-2.05 2.05l-2.05-2.05zM92.0 4.0l2.05 2.05l-2.05 2.05l-2.05-2.05zM94.0 4.0l2.05 2.05l-2.05 2.05l-2.05-2.05zM96.0 4.0l2.05 2.05l-2.05 2.05l-2.05-2.05zM98.0 4.0l2.05 2.05l-2.05 2.05l-2.05-2.05zM100.0 4.0l2.05 2.05l-2.05 2.05l-2.05-2.05zM108.0 4.0l2.05 2.05l-2.05 2.05l-2.05-2.05zM110.0 4.0l2.05 2.05l-2.05 2.05l-2.05-2.05zM112.0 4.0l2.05 2.05l-2.05 2.05l-2.05-2.05zM114.0 4.0l2.05 2.05l-2.05 2.05l-2.05-2.05zM116.0 4.0l2.05 2.05l-2.05 2.05l-2.05-2.05zM118.0 4.0l2.05 2.05l-2.05 2.05l-2.05-2.05zM70.0 6.0l2.05 2.05l-2.05 2.05l-2.05-2.05zM72.0 6.0l2.05 2.05l-2.05 2.05l-2.05-2.05zM74.0 6.0l2.05 2.05l-2.05 2.05l-2.05-2.05zM76.0 6.0l2.05 2.05l-2.05 2.05l-2.05-2.05zM78.0 6.0l2.05 2.05l-2.05 2.05l-2.05-2.05zM80.0 6.0l2.05 2.05l-2.05 2.05l-2.05-2.05zM82.0 6.0l2.05 2.05l-2.05 2.05l-2.05-2.05zM84.0 6.0l2.05 2.05l-2.05 2.05l-2.05-2.05zM86.0 6.0l2.05 2.05l-2.05 2.05l-2.05-2.05zM88.0 6.0l2.05 2.05l-2.05 2.05l-2.05-2.05zM90.0 6.0l2.05 2.05l-2.05 2.05l-2.05-2.05zM92.0 6.0l2.05 2.05l-2.05 2.05l-2.05-2.05zM94.0 6.0l2.05 2.05l-2.05 2.05l-2.05-2.05zM96.0 6.0l2.05 2.05l-2.05 2.05l-2.05-2.05zM98.0 6.0l2.05 2.05l-2.05 2.05l-2.05-2.05zM100.0 6.0l2.05 2.05l-2.05 2.05l-2.05-2.05zM102.0 6.0l2.05 2.05l-2.05 2.05l-2.05-2.05zM108.0 6.0l2.05 2.05l-2.05 2.05l-2.05-2.05zM110.0 6.0l2.05 2.05l-2.05 2.05l-2.05-2.05zM112.0 6.0l2.05 2.05l-2.05 2.05l-2.05-2.05zM114.0 6.0l2.05 2.05l-2.05 2.05l-2.05-2.05zM116.0 6.0l2.05 2.05l-2.05 2.05l-2.05-2.05zM118.0 6.0l2.05 2.05l-2.05 2.05l-2.05-2.05zM70.0 8.0l2.05 2.05l-2.05 2.05l-2.05-2.05zM72.0 8.0l2.05 2.05l-2.05 2.05l-2.05-2.05zM74.0 8.0l2.05 2.05l-2.05 2.05l-2.05-2.05zM76.0 8.0l2.05 2.05l-2.05 2.05l-2.05-2.05zM78.0 8.0l2.05 2.05l-2.05 2.05l-2.05-2.05zM80.0 8.0l2.05 2.05l-2.05 2.05l-2.05-2.05zM82.0 8.0l2.05 2.05l-2.05 2.05l-2.05-2.05zM84.0 8.0l2.05 2.05l-2.05 2.05l-2.05-2.05zM86.0 8.0l2.05 2.05l-2.05 2.05l-2.05-2.05zM88.0 8.0l2.05 2.05l-2.05 2.05l-2.05-2.05zM90.0 8.0l2.05 2.05l-2.05 2.05l-2.05-2.05zM92.0 8.0l2.05 2.05l-2.05 2.05l-2.05-2.05zM94.0 8.0l2.05 2.05l-2.05 2.05l-2.05-2.05zM96.0 8.0l2.05 2.05l-2.05 2.05l-2.05-2.05zM98.0 8.0l2.05 2.05l-2.05 2.05l-2.05-2.05zM102.0 8.0l2.05 2.05l-2.05 2.05l-2.05-2.05zM104.0 8.0l2.05 2.05l-2.05 2.05l-2.05-2.05zM106.0 8.0l2.05 2.05l-2.05 2.05l-2.05-2.05zM110.0 8.0l2.05 2.05l-2.05 2.05l-2.05-2.05zM112.0 8.0l2.05 2.05l-2.05 2.05l-2.05-2.05zM114.0 8.0l2.05 2.05l-2.05 2.05l-2.05-2.05zM116.0 8.0l2.05 2.05l-2.05 2.05l-2.05-2.05zM70.0 9.9l2.05 2.05l-2.05 2.05l-2.05-2.05zM72.0 9.9l2.05 2.05l-2.05 2.05l-2.05-2.05zM74.0 9.9l2.05 2.05l-2.05 2.05l-2.05-2.05zM76.0 9.9l2.05 2.05l-2.05 2.05l-2.05-2.05zM78.0 9.9l2.05 2.05l-2.05 2.05l-2.05-2.05zM80.0 9.9l2.05 2.05l-2.05 2.05l-2.05-2.05zM82.0 9.9l2.05 2.05l-2.05 2.05l-2.05-2.05zM84.0 9.9l2.05 2.05l-2.05 2.05l-2.05-2.05zM86.0 9.9l2.05 2.05l-2.05 2.05l-2.05-2.05zM88.0 9.9l2.05 2.05l-2.05 2.05l-2.05-2.05zM90.0 9.9l2.05 2.05l-2.05 2.05l-2.05-2.05zM92.0 9.9l2.05 2.05l-2.05 2.05l-2.05-2.05zM94.0 9.9l2.05 2.05l-2.05 2.05l-2.05-2.05zM98.0 9.9l2.05 2.05l-2.05 2.05l-2.05-2.05zM100.0 9.9l2.05 2.05l-2.05 2.05l-2.05-2.05zM102.0 9.9l2.05 2.05l-2.05 2.05l-2.05-2.05zM104.0 9.9l2.05 2.05l-2.05 2.05l-2.05-2.05zM106.0 9.9l2.05 2.05l-2.05 2.05l-2.05-2.05zM112.0 9.9l2.05 2.05l-2.05 2.05l-2.05-2.05zM114.0 9.9l2.05 2.05l-2.05 2.05l-2.05-2.05zM70.0 11.9l2.05 2.05l-2.05 2.05l-2.05-2.05zM72.0 11.9l2.05 2.05l-2.05 2.05l-2.05-2.05zM74.0 11.9l2.05 2.05l-2.05 2.05l-2.05-2.05zM76.0 11.9l2.05 2.05l-2.05 2.05l-2.05-2.05zM78.0 11.9l2.05 2.05l-2.05 2.05l-2.05-2.05zM80.0 11.9l2.05 2.05l-2.05 2.05l-2.05-2.05zM82.0 11.9l2.05 2.05l-2.05 2.05l-2.05-2.05zM84.0 11.9l2.05 2.05l-2.05 2.05l-2.05-2.05zM86.0 11.9l2.05 2.05l-2.05 2.05l-2.05-2.05zM88.0 11.9l2.05 2.05l-2.05 2.05l-2.05-2.05zM90.0 11.9l2.05 2.05l-2.05 2.05l-2.05-2.05zM92.0 11.9l2.05 2.05l-2.05 2.05l-2.05-2.05zM94.0 11.9l2.05 2.05l-2.05 2.05l-2.05-2.05zM96.0 11.9l2.05 2.05l-2.05 2.05l-2.05-2.05zM98.0 11.9l2.05 2.05l-2.05 2.05l-2.05-2.05zM100.0 11.9l2.05 2.05l-2.05 2.05l-2.05-2.05zM102.0 11.9l2.05 2.05l-2.05 2.05l-2.05-2.05zM104.0 11.9l2.05 2.05l-2.05 2.05l-2.05-2.05zM106.0 11.9l2.05 2.05l-2.05 2.05l-2.05-2.05zM116.0 11.9l2.05 2.05l-2.05 2.05l-2.05-2.05zM70.0 13.9l2.05 2.05l-2.05 2.05l-2.05-2.05zM72.0 13.9l2.05 2.05l-2.05 2.05l-2.05-2.05zM74.0 13.9l2.05 2.05l-2.05 2.05l-2.05-2.05zM76.0 13.9l2.05 2.05l-2.05 2.05l-2.05-2.05zM78.0 13.9l2.05 2.05l-2.05 2.05l-2.05-2.05zM80.0 13.9l2.05 2.05l-2.05 2.05l-2.05-2.05zM82.0 13.9l2.05 2.05l-2.05 2.05l-2.05-2.05zM86.0 13.9l2.05 2.05l-2.05 2.05l-2.05-2.05zM88.0 13.9l2.05 2.05l-2.05 2.05l-2.05-2.05zM90.0 13.9l2.05 2.05l-2.05 2.05l-2.05-2.05zM92.0 13.9l2.05 2.05l-2.05 2.05l-2.05-2.05zM94.0 13.9l2.05 2.05l-2.05 2.05l-2.05-2.05zM96.0 13.9l2.05 2.05l-2.05 2.05l-2.05-2.05zM98.0 13.9l2.05 2.05l-2.05 2.05l-2.05-2.05zM100.0 13.9l2.05 2.05l-2.05 2.05l-2.05-2.05zM102.0 13.9l2.05 2.05l-2.05 2.05l-2.05-2.05zM104.0 13.9l2.05 2.05l-2.05 2.05l-2.05-2.05zM106.0 13.9l2.05 2.05l-2.05 2.05l-2.05-2.05zM116.0 13.9l2.05 2.05l-2.05 2.05l-2.05-2.05zM70.0 15.9l2.05 2.05l-2.05 2.05l-2.05-2.05zM72.0 15.9l2.05 2.05l-2.05 2.05l-2.05-2.05zM74.0 15.9l2.05 2.05l-2.05 2.05l-2.05-2.05zM76.0 15.9l2.05 2.05l-2.05 2.05l-2.05-2.05zM78.0 15.9l2.05 2.05l-2.05 2.05l-2.05-2.05zM80.0 15.9l2.05 2.05l-2.05 2.05l-2.05-2.05zM82.0 15.9l2.05 2.05l-2.05 2.05l-2.05-2.05zM84.0 15.9l2.05 2.05l-2.05 2.05l-2.05-2.05zM86.0 15.9l2.05 2.05l-2.05 2.05l-2.05-2.05zM88.0 15.9l2.05 2.05l-2.05 2.05l-2.05-2.05zM90.0 15.9l2.05 2.05l-2.05 2.05l-2.05-2.05zM92.0 15.9l2.05 2.05l-2.05 2.05l-2.05-2.05zM94.0 15.9l2.05 2.05l-2.05 2.05l-2.05-2.05zM96.0 15.9l2.05 2.05l-2.05 2.05l-2.05-2.05zM98.0 15.9l2.05 2.05l-2.05 2.05l-2.05-2.05zM100.0 15.9l2.05 2.05l-2.05 2.05l-2.05-2.05zM102.0 15.9l2.05 2.05l-2.05 2.05l-2.05-2.05zM104.0 15.9l2.05 2.05l-2.05 2.05l-2.05-2.05zM106.0 15.9l2.05 2.05l-2.05 2.05l-2.05-2.05zM108.0 15.9l2.05 2.05l-2.05 2.05l-2.05-2.05zM70.0 17.9l2.05 2.05l-2.05 2.05l-2.05-2.05zM72.0 17.9l2.05 2.05l-2.05 2.05l-2.05-2.05zM74.0 17.9l2.05 2.05l-2.05 2.05l-2.05-2.05zM76.0 17.9l2.05 2.05l-2.05 2.05l-2.05-2.05zM78.0 17.9l2.05 2.05l-2.05 2.05l-2.05-2.05zM80.0 17.9l2.05 2.05l-2.05 2.05l-2.05-2.05zM84.0 17.9l2.05 2.05l-2.05 2.05l-2.05-2.05zM86.0 17.9l2.05 2.05l-2.05 2.05l-2.05-2.05zM88.0 17.9l2.05 2.05l-2.05 2.05l-2.05-2.05zM90.0 17.9l2.05 2.05l-2.05 2.05l-2.05-2.05zM92.0 17.9l2.05 2.05l-2.05 2.05l-2.05-2.05zM94.0 17.9l2.05 2.05l-2.05 2.05l-2.05-2.05zM96.0 17.9l2.05 2.05l-2.05 2.05l-2.05-2.05zM98.0 17.9l2.05 2.05l-2.05 2.05l-2.05-2.05zM100.0 17.9l2.05 2.05l-2.05 2.05l-2.05-2.05zM104.0 17.9l2.05 2.05l-2.05 2.05l-2.05-2.05zM106.0 17.9l2.05 2.05l-2.05 2.05l-2.05-2.05zM108.0 17.9l2.05 2.05l-2.05 2.05l-2.05-2.05zM110.0 17.9l2.05 2.05l-2.05 2.05l-2.05-2.05zM112.0 17.9l2.05 2.05l-2.05 2.05l-2.05-2.05zM114.0 17.9l2.05 2.05l-2.05 2.05l-2.05-2.05zM70.0 19.9l2.05 2.05l-2.05 2.05l-2.05-2.05zM72.0 19.9l2.05 2.05l-2.05 2.05l-2.05-2.05zM74.0 19.9l2.05 2.05l-2.05 2.05l-2.05-2.05zM76.0 19.9l2.05 2.05l-2.05 2.05l-2.05-2.05zM78.0 19.9l2.05 2.05l-2.05 2.05l-2.05-2.05zM80.0 19.9l2.05 2.05l-2.05 2.05l-2.05-2.05zM84.0 19.9l2.05 2.05l-2.05 2.05l-2.05-2.05zM86.0 19.9l2.05 2.05l-2.05 2.05l-2.05-2.05zM88.0 19.9l2.05 2.05l-2.05 2.05l-2.05-2.05zM90.0 19.9l2.05 2.05l-2.05 2.05l-2.05-2.05zM92.0 19.9l2.05 2.05l-2.05 2.05l-2.05-2.05zM94.0 19.9l2.05 2.05l-2.05 2.05l-2.05-2.05zM96.0 19.9l2.05 2.05l-2.05 2.05l-2.05-2.05zM98.0 19.9l2.05 2.05l-2.05 2.05l-2.05-2.05zM100.0 19.9l2.05 2.05l-2.05 2.05l-2.05-2.05zM104.0 19.9l2.05 2.05l-2.05 2.05l-2.05-2.05zM106.0 19.9l2.05 2.05l-2.05 2.05l-2.05-2.05zM108.0 19.9l2.05 2.05l-2.05 2.05l-2.05-2.05zM110.0 19.9l2.05 2.05l-2.05 2.05l-2.05-2.05zM112.0 19.9l2.05 2.05l-2.05 2.05l-2.05-2.05zM70.0 21.9l2.05 2.05l-2.05 2.05l-2.05-2.05zM72.0 21.9l2.05 2.05l-2.05 2.05l-2.05-2.05zM74.0 21.9l2.05 2.05l-2.05 2.05l-2.05-2.05zM76.0 21.9l2.05 2.05l-2.05 2.05l-2.05-2.05zM78.0 21.9l2.05 2.05l-2.05 2.05l-2.05-2.05zM80.0 21.9l2.05 2.05l-2.05 2.05l-2.05-2.05zM86.0 21.9l2.05 2.05l-2.05 2.05l-2.05-2.05zM88.0 21.9l2.05 2.05l-2.05 2.05l-2.05-2.05zM90.0 21.9l2.05 2.05l-2.05 2.05l-2.05-2.05zM92.0 21.9l2.05 2.05l-2.05 2.05l-2.05-2.05zM94.0 21.9l2.05 2.05l-2.05 2.05l-2.05-2.05zM96.0 21.9l2.05 2.05l-2.05 2.05l-2.05-2.05zM98.0 21.9l2.05 2.05l-2.05 2.05l-2.05-2.05zM100.0 21.9l2.05 2.05l-2.05 2.05l-2.05-2.05zM104.0 21.9l2.05 2.05l-2.05 2.05l-2.05-2.05zM106.0 21.9l2.05 2.05l-2.05 2.05l-2.05-2.05zM70.0 23.9l2.05 2.05l-2.05 2.05l-2.05-2.05zM72.0 23.9l2.05 2.05l-2.05 2.05l-2.05-2.05zM74.0 23.9l2.05 2.05l-2.05 2.05l-2.05-2.05zM76.0 23.9l2.05 2.05l-2.05 2.05l-2.05-2.05zM78.0 23.9l2.05 2.05l-2.05 2.05l-2.05-2.05zM86.0 23.9l2.05 2.05l-2.05 2.05l-2.05-2.05zM88.0 23.9l2.05 2.05l-2.05 2.05l-2.05-2.05zM90.0 23.9l2.05 2.05l-2.05 2.05l-2.05-2.05zM92.0 23.9l2.05 2.05l-2.05 2.05l-2.05-2.05zM94.0 23.9l2.05 2.05l-2.05 2.05l-2.05-2.05zM96.0 23.9l2.05 2.05l-2.05 2.05l-2.05-2.05zM98.0 23.9l2.05 2.05l-2.05 2.05l-2.05-2.05zM100.0 23.9l2.05 2.05l-2.05 2.05l-2.05-2.05zM102.0 23.9l2.05 2.05l-2.05 2.05l-2.05-2.05zM104.0 23.9l2.05 2.05l-2.05 2.05l-2.05-2.05zM70.0 25.9l2.05 2.05l-2.05 2.05l-2.05-2.05zM72.0 25.9l2.05 2.05l-2.05 2.05l-2.05-2.05zM74.0 25.9l2.05 2.05l-2.05 2.05l-2.05-2.05zM76.0 25.9l2.05 2.05l-2.05 2.05l-2.05-2.05zM88.0 25.9l2.05 2.05l-2.05 2.05l-2.05-2.05zM90.0 25.9l2.05 2.05l-2.05 2.05l-2.05-2.05zM92.0 25.9l2.05 2.05l-2.05 2.05l-2.05-2.05zM94.0 25.9l2.05 2.05l-2.05 2.05l-2.05-2.05zM96.0 25.9l2.05 2.05l-2.05 2.05l-2.05-2.05zM98.0 25.9l2.05 2.05l-2.05 2.05l-2.05-2.05zM100.0 25.9l2.05 2.05l-2.05 2.05l-2.05-2.05zM102.0 25.9l2.05 2.05l-2.05 2.05l-2.05-2.05zM104.0 25.9l2.05 2.05l-2.05 2.05l-2.05-2.05zM106.0 25.9l2.05 2.05l-2.05 2.05l-2.05-2.05zM70.0 27.9l2.05 2.05l-2.05 2.05l-2.05-2.05zM72.0 27.9l2.05 2.05l-2.05 2.05l-2.05-2.05zM90.0 27.9l2.05 2.05l-2.05 2.05l-2.05-2.05zM92.0 27.9l2.05 2.05l-2.05 2.05l-2.05-2.05zM94.0 27.9l2.05 2.05l-2.05 2.05l-2.05-2.05zM96.0 27.9l2.05 2.05l-2.05 2.05l-2.05-2.05zM98.0 27.9l2.05 2.05l-2.05 2.05l-2.05-2.05zM100.0 27.9l2.05 2.05l-2.05 2.05l-2.05-2.05zM102.0 27.9l2.05 2.05l-2.05 2.05l-2.05-2.05zM104.0 27.9l2.05 2.05l-2.05 2.05l-2.05-2.05zM106.0 27.9l2.05 2.05l-2.05 2.05l-2.05-2.05zM108.0 27.9l2.05 2.05l-2.05 2.05l-2.05-2.05zM70.0 29.9l2.05 2.05l-2.05 2.05l-2.05-2.05zM72.0 29.9l2.05 2.05l-2.05 2.05l-2.05-2.05zM74.0 29.9l2.05 2.05l-2.05 2.05l-2.05-2.05zM88.0 29.9l2.05 2.05l-2.05 2.05l-2.05-2.05zM92.0 29.9l2.05 2.05l-2.05 2.05l-2.05-2.05zM94.0 29.9l2.05 2.05l-2.05 2.05l-2.05-2.05zM96.0 29.9l2.05 2.05l-2.05 2.05l-2.05-2.05zM98.0 29.9l2.05 2.05l-2.05 2.05l-2.05-2.05zM100.0 29.9l2.05 2.05l-2.05 2.05l-2.05-2.05zM102.0 29.9l2.05 2.05l-2.05 2.05l-2.05-2.05zM104.0 29.9l2.05 2.05l-2.05 2.05l-2.05-2.05zM106.0 29.9l2.05 2.05l-2.05 2.05l-2.05-2.05zM108.0 29.9l2.05 2.05l-2.05 2.05l-2.05-2.05zM110.0 29.9l2.05 2.05l-2.05 2.05l-2.05-2.05zM70.0 31.9l2.05 2.05l-2.05 2.05l-2.05-2.05zM72.0 31.9l2.05 2.05l-2.05 2.05l-2.05-2.05zM74.0 31.9l2.05 2.05l-2.05 2.05l-2.05-2.05zM76.0 31.9l2.05 2.05l-2.05 2.05l-2.05-2.05zM88.0 31.9l2.05 2.05l-2.05 2.05l-2.05-2.05zM90.0 31.9l2.05 2.05l-2.05 2.05l-2.05-2.05zM98.0 31.9l2.05 2.05l-2.05 2.05l-2.05-2.05zM100.0 31.9l2.05 2.05l-2.05 2.05l-2.05-2.05zM102.0 31.9l2.05 2.05l-2.05 2.05l-2.05-2.05zM104.0 31.9l2.05 2.05l-2.05 2.05l-2.05-2.05zM106.0 31.9l2.05 2.05l-2.05 2.05l-2.05-2.05zM108.0 31.9l2.05 2.05l-2.05 2.05l-2.05-2.05zM110.0 31.9l2.05 2.05l-2.05 2.05l-2.05-2.05zM70.0 34.0l2.05 2.05l-2.05 2.05l-2.05-2.05zM72.0 34.0l2.05 2.05l-2.05 2.05l-2.05-2.05zM74.0 34.0l2.05 2.05l-2.05 2.05l-2.05-2.05zM76.0 34.0l2.05 2.05l-2.05 2.05l-2.05-2.05zM78.0 34.0l2.05 2.05l-2.05 2.05l-2.05-2.05zM86.0 34.0l2.05 2.05l-2.05 2.05l-2.05-2.05zM88.0 34.0l2.05 2.05l-2.05 2.05l-2.05-2.05zM102.0 34.0l2.05 2.05l-2.05 2.05l-2.05-2.05zM104.0 34.0l2.05 2.05l-2.05 2.05l-2.05-2.05zM106.0 34.0l2.05 2.05l-2.05 2.05l-2.05-2.05zM108.0 34.0l2.05 2.05l-2.05 2.05l-2.05-2.05zM110.0 34.0l2.05 2.05l-2.05 2.05l-2.05-2.05zM112.0 34.0l2.05 2.05l-2.05 2.05l-2.05-2.05zM70.0 36.0l2.05 2.05l-2.05 2.05l-2.05-2.05zM72.0 36.0l2.05 2.05l-2.05 2.05l-2.05-2.05zM74.0 36.0l2.05 2.05l-2.05 2.05l-2.05-2.05zM78.0 36.0l2.05 2.05l-2.05 2.05l-2.05-2.05zM86.0 36.0l2.05 2.05l-2.05 2.05l-2.05-2.05zM88.0 36.0l2.05 2.05l-2.05 2.05l-2.05-2.05zM98.0 36.0l2.05 2.05l-2.05 2.05l-2.05-2.05zM102.0 36.0l2.05 2.05l-2.05 2.05l-2.05-2.05zM104.0 36.0l2.05 2.05l-2.05 2.05l-2.05-2.05zM106.0 36.0l2.05 2.05l-2.05 2.05l-2.05-2.05zM108.0 36.0l2.05 2.05l-2.05 2.05l-2.05-2.05zM110.0 36.0l2.05 2.05l-2.05 2.05l-2.05-2.05zM112.0 36.0l2.05 2.05l-2.05 2.05l-2.05-2.05zM114.0 36.0l2.05 2.05l-2.05 2.05l-2.05-2.05zM70.0 38.0l2.05 2.05l-2.05 2.05l-2.05-2.05zM72.0 38.0l2.05 2.05l-2.05 2.05l-2.05-2.05zM74.0 38.0l2.05 2.05l-2.05 2.05l-2.05-2.05zM76.0 38.0l2.05 2.05l-2.05 2.05l-2.05-2.05zM78.0 38.0l2.05 2.05l-2.05 2.05l-2.05-2.05zM80.0 38.0l2.05 2.05l-2.05 2.05l-2.05-2.05zM82.0 38.0l2.05 2.05l-2.05 2.05l-2.05-2.05zM84.0 38.0l2.05 2.05l-2.05 2.05l-2.05-2.05zM104.0 38.0l2.05 2.05l-2.05 2.05l-2.05-2.05zM106.0 38.0l2.05 2.05l-2.05 2.05l-2.05-2.05zM108.0 38.0l2.05 2.05l-2.05 2.05l-2.05-2.05zM110.0 38.0l2.05 2.05l-2.05 2.05l-2.05-2.05zM112.0 38.0l2.05 2.05l-2.05 2.05l-2.05-2.05zM114.0 38.0l2.05 2.05l-2.05 2.05l-2.05-2.05zM70.0 40.0l2.05 2.05l-2.05 2.05l-2.05-2.05zM72.0 40.0l2.05 2.05l-2.05 2.05l-2.05-2.05zM74.0 40.0l2.05 2.05l-2.05 2.05l-2.05-2.05zM76.0 40.0l2.05 2.05l-2.05 2.05l-2.05-2.05zM78.0 40.0l2.05 2.05l-2.05 2.05l-2.05-2.05zM80.0 40.0l2.05 2.05l-2.05 2.05l-2.05-2.05zM82.0 40.0l2.05 2.05l-2.05 2.05l-2.05-2.05zM84.0 40.0l2.05 2.05l-2.05 2.05l-2.05-2.05zM86.0 40.0l2.05 2.05l-2.05 2.05l-2.05-2.05zM100.0 40.0l2.05 2.05l-2.05 2.05l-2.05-2.05zM106.0 40.0l2.05 2.05l-2.05 2.05l-2.05-2.05zM108.0 40.0l2.05 2.05l-2.05 2.05l-2.05-2.05zM110.0 40.0l2.05 2.05l-2.05 2.05l-2.05-2.05zM112.0 40.0l2.05 2.05l-2.05 2.05l-2.05-2.05zM114.0 40.0l2.05 2.05l-2.05 2.05l-2.05-2.05zM116.0 40.0l2.05 2.05l-2.05 2.05l-2.05-2.05zM70.0 42.0l2.05 2.05l-2.05 2.05l-2.05-2.05zM72.0 42.0l2.05 2.05l-2.05 2.05l-2.05-2.05zM74.0 42.0l2.05 2.05l-2.05 2.05l-2.05-2.05zM76.0 42.0l2.05 2.05l-2.05 2.05l-2.05-2.05zM78.0 42.0l2.05 2.05l-2.05 2.05l-2.05-2.05zM80.0 42.0l2.05 2.05l-2.05 2.05l-2.05-2.05zM82.0 42.0l2.05 2.05l-2.05 2.05l-2.05-2.05zM84.0 42.0l2.05 2.05l-2.05 2.05l-2.05-2.05zM92.0 42.0l2.05 2.05l-2.05 2.05l-2.05-2.05zM94.0 42.0l2.05 2.05l-2.05 2.05l-2.05-2.05zM98.0 42.0l2.05 2.05l-2.05 2.05l-2.05-2.05zM100.0 42.0l2.05 2.05l-2.05 2.05l-2.05-2.05zM102.0 42.0l2.05 2.05l-2.05 2.05l-2.05-2.05zM106.0 42.0l2.05 2.05l-2.05 2.05l-2.05-2.05zM108.0 42.0l2.05 2.05l-2.05 2.05l-2.05-2.05zM110.0 42.0l2.05 2.05l-2.05 2.05l-2.05-2.05zM112.0 42.0l2.05 2.05l-2.05 2.05l-2.05-2.05zM114.0 42.0l2.05 2.05l-2.05 2.05l-2.05-2.05zM116.0 42.0l2.05 2.05l-2.05 2.05l-2.05-2.05zM70.0 44.0l2.05 2.05l-2.05 2.05l-2.05-2.05zM72.0 44.0l2.05 2.05l-2.05 2.05l-2.05-2.05zM74.0 44.0l2.05 2.05l-2.05 2.05l-2.05-2.05zM76.0 44.0l2.05 2.05l-2.05 2.05l-2.05-2.05zM78.0 44.0l2.05 2.05l-2.05 2.05l-2.05-2.05zM88.0 44.0l2.05 2.05l-2.05 2.05l-2.05-2.05zM90.0 44.0l2.05 2.05l-2.05 2.05l-2.05-2.05zM92.0 44.0l2.05 2.05l-2.05 2.05l-2.05-2.05zM98.0 44.0l2.05 2.05l-2.05 2.05l-2.05-2.05zM100.0 44.0l2.05 2.05l-2.05 2.05l-2.05-2.05zM102.0 44.0l2.05 2.05l-2.05 2.05l-2.05-2.05zM108.0 44.0l2.05 2.05l-2.05 2.05l-2.05-2.05zM110.0 44.0l2.05 2.05l-2.05 2.05l-2.05-2.05zM112.0 44.0l2.05 2.05l-2.05 2.05l-2.05-2.05zM114.0 44.0l2.05 2.05l-2.05 2.05l-2.05-2.05zM116.0 44.0l2.05 2.05l-2.05 2.05l-2.05-2.05zM118.0 44.0l2.05 2.05l-2.05 2.05l-2.05-2.05zM70.0 46.0l2.05 2.05l-2.05 2.05l-2.05-2.05zM72.0 46.0l2.05 2.05l-2.05 2.05l-2.05-2.05zM74.0 46.0l2.05 2.05l-2.05 2.05l-2.05-2.05zM76.0 46.0l2.05 2.05l-2.05 2.05l-2.05-2.05zM82.0 46.0l2.05 2.05l-2.05 2.05l-2.05-2.05zM84.0 46.0l2.05 2.05l-2.05 2.05l-2.05-2.05zM86.0 46.0l2.05 2.05l-2.05 2.05l-2.05-2.05zM88.0 46.0l2.05 2.05l-2.05 2.05l-2.05-2.05zM96.0 46.0l2.05 2.05l-2.05 2.05l-2.05-2.05zM98.0 46.0l2.05 2.05l-2.05 2.05l-2.05-2.05zM100.0 46.0l2.05 2.05l-2.05 2.05l-2.05-2.05zM102.0 46.0l2.05 2.05l-2.05 2.05l-2.05-2.05zM104.0 46.0l2.05 2.05l-2.05 2.05l-2.05-2.05zM108.0 46.0l2.05 2.05l-2.05 2.05l-2.05-2.05zM110.0 46.0l2.05 2.05l-2.05 2.05l-2.05-2.05zM112.0 46.0l2.05 2.05l-2.05 2.05l-2.05-2.05zM114.0 46.0l2.05 2.05l-2.05 2.05l-2.05-2.05zM116.0 46.0l2.05 2.05l-2.05 2.05l-2.05-2.05zM118.0 46.0l2.05 2.05l-2.05 2.05l-2.05-2.05zM70.0 48.0l2.05 2.05l-2.05 2.05l-2.05-2.05zM72.0 48.0l2.05 2.05l-2.05 2.05l-2.05-2.05zM74.0 48.0l2.05 2.05l-2.05 2.05l-2.05-2.05zM80.0 48.0l2.05 2.05l-2.05 2.05l-2.05-2.05zM82.0 48.0l2.05 2.05l-2.05 2.05l-2.05-2.05zM88.0 48.0l2.05 2.05l-2.05 2.05l-2.05-2.05zM92.0 48.0l2.05 2.05l-2.05 2.05l-2.05-2.05zM96.0 48.0l2.05 2.05l-2.05 2.05l-2.05-2.05zM102.0 48.0l2.05 2.05l-2.05 2.05l-2.05-2.05zM104.0 48.0l2.05 2.05l-2.05 2.05l-2.05-2.05zM112.0 48.0l2.05 2.05l-2.05 2.05l-2.05-2.05zM114.0 48.0l2.05 2.05l-2.05 2.05l-2.05-2.05zM116.0 48.0l2.05 2.05l-2.05 2.05l-2.05-2.05zM118.0 48.0l2.05 2.05l-2.05 2.05l-2.05-2.05zM120.0 48.0l2.05 2.05l-2.05 2.05l-2.05-2.05zM70.0 50.0l2.05 2.05l-2.05 2.05l-2.05-2.05zM72.0 50.0l2.05 2.05l-2.05 2.05l-2.05-2.05zM74.0 50.0l2.05 2.05l-2.05 2.05l-2.05-2.05zM80.0 50.0l2.05 2.05l-2.05 2.05l-2.05-2.05zM92.0 50.0l2.05 2.05l-2.05 2.05l-2.05-2.05zM116.0 50.0l2.05 2.05l-2.05 2.05l-2.05-2.05zM118.0 50.0l2.05 2.05l-2.05 2.05l-2.05-2.05zM120.0 50.0l2.05 2.05l-2.05 2.05l-2.05-2.05zM122.0 50.0l2.05 2.05l-2.05 2.05l-2.05-2.05zM70.0 52.0l2.05 2.05l-2.05 2.05l-2.05-2.05zM72.0 52.0l2.05 2.05l-2.05 2.05l-2.05-2.05zM80.0 52.0l2.05 2.05l-2.05 2.05l-2.05-2.05zM70.0 54.0l2.05 2.05l-2.05 2.05l-2.05-2.05zM72.0 54.0l2.05 2.05l-2.05 2.05l-2.05-2.05zM82.0 54.0l2.05 2.05l-2.05 2.05l-2.05-2.05zM84.0 54.0l2.05 2.05l-2.05 2.05l-2.05-2.05zM72.0 56.0l2.05 2.05l-2.05 2.05l-2.05-2.05zM74.0 56.0l2.05 2.05l-2.05 2.05l-2.05-2.05zM76.0 56.0l2.05 2.05l-2.05 2.05l-2.05-2.05zM82.0 56.0l2.05 2.05l-2.05 2.05l-2.05-2.05zM88.0 56.0l2.05 2.05l-2.05 2.05l-2.05-2.05zM70.0 58.0l2.05 2.05l-2.05 2.05l-2.05-2.05zM72.0 58.0l2.05 2.05l-2.05 2.05l-2.05-2.05zM74.0 58.0l2.05 2.05l-2.05 2.05l-2.05-2.05zM76.0 58.0l2.05 2.05l-2.05 2.05l-2.05-2.05zM78.0 58.0l2.05 2.05l-2.05 2.05l-2.05-2.05zM88.0 58.0l2.05 2.05l-2.05 2.05l-2.05-2.05zM72.0 60.0l2.05 2.05l-2.05 2.05l-2.05-2.05zM74.0 60.0l2.05 2.05l-2.05 2.05l-2.05-2.05zM76.0 60.0l2.05 2.05l-2.05 2.05l-2.05-2.05zM88.0 60.0l2.05 2.05l-2.05 2.05l-2.05-2.05zM90.0 60.0l2.05 2.05l-2.05 2.05l-2.05-2.05zM78.0 62.0l2.05 2.05l-2.05 2.05l-2.05-2.05zM84.0 62.0l2.05 2.05l-2.05 2.05l-2.05-2.05zM88.0 62.0l2.05 2.05l-2.05 2.05l-2.05-2.05zM90.0 62.0l2.05 2.05l-2.05 2.05l-2.05-2.05zM76.0 64.0l2.05 2.05l-2.05 2.05l-2.05-2.05zM78.0 64.0l2.05 2.05l-2.05 2.05l-2.05-2.05zM80.0 64.0l2.05 2.05l-2.05 2.05l-2.05-2.05zM82.0 64.0l2.05 2.05l-2.05 2.05l-2.05-2.05zM84.0 64.0l2.05 2.05l-2.05 2.05l-2.05-2.05zM90.0 64.0l2.05 2.05l-2.05 2.05l-2.05-2.05zM72.0 66.0l2.05 2.05l-2.05 2.05l-2.05-2.05zM74.0 66.0l2.05 2.05l-2.05 2.05l-2.05-2.05zM78.0 66.0l2.05 2.05l-2.05 2.05l-2.05-2.05zM90.0 66.0l2.05 2.05l-2.05 2.05l-2.05-2.05zM72.0 68.0l2.05 2.05l-2.05 2.05l-2.05-2.05z" fill="#bdbdbd" clip-path="url(#cc)"/><circle cx="86.2" cy="15.2" r="0.95" fill="#111"/><circle cx="93.2" cy="22.2" r="0.95" fill="#111"/><circle cx="107.8" cy="38.5" r="0.95" fill="#111"/><circle cx="111.7" cy="42.6" r="0.95" fill="#111"/>
<rect x="96.9" y="55.3" width="68.2" height="8.4" fill="#1e7a36" fill-opacity="0.9" stroke="#1e7a36" stroke-width="0.6" stroke-opacity="0.95"/>
<rect x="126.5" y="120.3" width="68.2" height="8.4" fill="#7cc177" fill-opacity="0.9" stroke="#7cc177" stroke-width="0.6" stroke-opacity="0.95"/>
<rect x="153.3" y="144.7" width="48.4" height="8.6" fill="#d5f1d0" fill-opacity="0.92" stroke="#d5f1d0" stroke-width="0.6" stroke-opacity="0.95"/>
<rect x="197.9" y="364.9" width="109.8" height="8.8" fill="#e5d5ec" fill-opacity="0.93" stroke="#e5d5ec" stroke-width="0.6" stroke-opacity="0.95"/>
<rect x="238.3" y="458.3" width="98.8" height="9.0" fill="#ad8dce" fill-opacity="0.93" stroke="#ad8dce" stroke-width="0.6" stroke-opacity="0.95"/>
<rect x="384.3" y="605.9" width="136.0" height="9.2" fill="#7b3497" fill-opacity="0.95" stroke="#7b3497" stroke-width="0.6" stroke-opacity="0.95"/>
<rect x="116.0" y="166.5" width="97.4" height="11.2" fill="#f9f9f9" fill-opacity="0.97" stroke="#111" stroke-width="2"/>
<rect x="539.2" y="32.8" width="101.1" height="250.9" fill="#fff"/>
<text class="lg" x="548.3" y="66" style="font-size:22.7px">Habitat</text>
<rect x="550.7" y="85.8" width="22.7" height="9.2" fill="#7b3497" fill-opacity="0.95" stroke="#7b3497" stroke-width="0.6" stroke-opacity="0.95"/>
<text class="lg" x="585.6" y="99.9">EA</text>
<rect x="550.7" y="114.0" width="22.7" height="9.2" fill="#ad8dce" fill-opacity="0.93" stroke="#ad8dce" stroke-width="0.6" stroke-opacity="0.95"/>
<text class="lg" x="585.6" y="128.1">CF</text>
<rect x="550.7" y="142.2" width="22.7" height="9.2" fill="#e5d5ec" fill-opacity="0.93" stroke="#e5d5ec" stroke-width="0.6" stroke-opacity="0.95"/>
<text class="lg" x="585.6" y="156.3">MS</text>
<rect x="549.5" y="165.1" width="23.9" height="11.5" fill="#fafafa" stroke="#111" stroke-width="1.8"/>
<text class="lg" x="585.6" y="184.5">CS</text>
<rect x="550.7" y="198.6" width="22.7" height="9.2" fill="#d5f1d0" fill-opacity="0.92" stroke="#d5f1d0" stroke-width="0.6" stroke-opacity="0.95"/>
<text class="lg" x="585.6" y="212.7">VM</text>
<rect x="550.7" y="226.8" width="22.7" height="9.2" fill="#7cc177" fill-opacity="0.9" stroke="#7cc177" stroke-width="0.6" stroke-opacity="0.95"/>
<text class="lg" x="585.6" y="240.9">CM</text>
<rect x="550.7" y="255.0" width="22.7" height="9.2" fill="#1e7a36" fill-opacity="0.9" stroke="#1e7a36" stroke-width="0.6" stroke-opacity="0.95"/>
<text class="lg" x="585.6" y="269.1">PP</text>
<rect x="66.6" y="2.4" width="616.0" height="628.0" fill="none" stroke="#222" stroke-width="1.4"/>
<path d="M72.4 630.4v4.6M148.0 630.4v4.6M223.6 630.4v4.6M299.2 630.4v4.6M374.8 630.4v4.6M450.4 630.4v4.6M526.0 630.4v4.6M601.6 630.4v4.6M66.6 624.4h-4.6M66.6 501.2h-4.6M66.6 378.0h-4.6M66.6 254.7h-4.6M66.6 131.5h-4.6M66.6 8.3h-4.6" stroke="#222" stroke-width="1.3" fill="none"/>
<text class="tk" transform="translate(71.9 656.0) scale(1 1.05)" text-anchor="middle">0</text>
<text class="tk" transform="translate(147.5 656.0) scale(1 1.05)" text-anchor="middle">200</text>
<text class="tk" transform="translate(223.1 656.0) scale(1 1.05)" text-anchor="middle">400</text>
<text class="tk" transform="translate(298.7 656.0) scale(1 1.05)" text-anchor="middle">600</text>
<text class="tk" transform="translate(374.3 656.0) scale(1 1.05)" text-anchor="middle">800</text>
<text class="tk" transform="translate(449.9 656.0) scale(1 1.05)" text-anchor="middle">1000</text>
<text class="tk" transform="translate(525.5 656.0) scale(1 1.05)" text-anchor="middle">1200</text>
<text class="tk" transform="translate(601.1 656.0) scale(1 1.05)" text-anchor="middle">1400</text>
<text class="tk" transform="translate(57.9 633.5) scale(1 1.09)" text-anchor="end" style="letter-spacing:.7px">0.0</text>
<text class="tk" transform="translate(57.9 510.3) scale(1 1.09)" text-anchor="end" style="letter-spacing:.7px">0.2</text>
<text class="tk" transform="translate(57.9 387.1) scale(1 1.09)" text-anchor="end" style="letter-spacing:.7px">0.4</text>
<text class="tk" transform="translate(57.9 263.8) scale(1 1.09)" text-anchor="end" style="letter-spacing:.7px">0.6</text>
<text class="tk" transform="translate(57.9 140.6) scale(1 1.09)" text-anchor="end" style="letter-spacing:.7px">0.8</text>
<text class="tk" transform="translate(57.9 17.4) scale(1 1.09)" text-anchor="end" style="letter-spacing:.7px">1.0</text>
<text class="ax" transform="translate(374.9 678.5) scale(1 1.04)" text-anchor="middle">Degree Days</text>
<text class="ax" transform="translate(18.2 315.3) rotate(-90)" text-anchor="middle" style="font-size:19.9px">fSCA</text>
</svg></body></html>
